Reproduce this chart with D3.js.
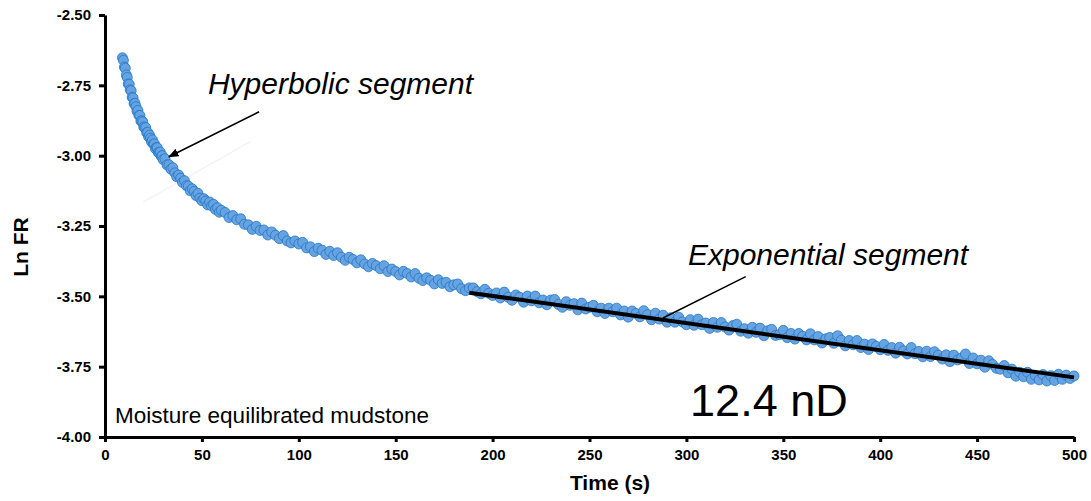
<!DOCTYPE html>
<html>
<head>
<meta charset="utf-8">
<script src="https://cdn.jsdelivr.net/npm/d3@7"></script>
<style>
  body { margin: 0; background: #fff; }
  text { font-family: "Liberation Sans", Arial, sans-serif; }
</style>
</head>
<body>
<div id="chart"></div>
<script>
// early (hyperbolic) part, sampled every 0.5 s
const timesA = [9,9.5,10,10.5,11,11.5,12,12.5,13,13.5,14,14.5,15,15.5,16,16.5,17,17.5,18,18.5,
  19,19.5,20,20.5,21,21.5,22,22.5,23,23.5,24,24.5,25,25.5,26,26.5,27,27.5,28,28.5,29,29.5,30];
const lnFrA = [-2.652,-2.661,-2.685,-2.689,-2.713,-2.722,-2.745,-2.746,-2.766,-2.769,-2.792,-2.795,
  -2.815,-2.814,-2.826,-2.842,-2.839,-2.857,-2.857,-2.877,-2.876,-2.880,-2.898,-2.901,-2.900,-2.918,
  -2.917,-2.933,-2.927,-2.938,-2.951,-2.944,-2.959,-2.958,-2.975,-2.971,-2.972,-2.989,-2.991,-2.987,
  -3.002,-3.000,-3.014];

// every 1 s
const timesB = [31,32,33,34,35,36,37,38,39,40,41,42,43,44,45,46,47,48,49,50,
  51,52,53,54,55,56,57,58,59,60];
const lnFrB = [-3.011,-3.033,-3.032,-3.048,-3.043,-3.061,-3.075,-3.069,-3.080,-3.095,
  -3.089,-3.107,-3.108,-3.125,-3.118,-3.127,-3.142,-3.134,-3.151,-3.160,
  -3.153,-3.161,-3.175,-3.165,-3.178,-3.173,-3.191,-3.185,-3.201,-3.194];

// every 2 s
const timesC = [62,64,66,68,70,72,74,76,78,80,82,84,86,88,90,92,94,96,98,100,
  102,104,106,108,110,112,114,116,118,120,122,124,126,128,130,132,134,136,138,140,
  142,144,146,148,150,152,154,156,158,160,162,164,166,168,170,172,174,176,178,180,
  182,184,186,188,190,192,194,196,198,200,202,204,206,208,210,212,214,216,218,220,
  222,224,226,228,230,232,234,236,238,240,242,244,246,248,250,252,254,256,258,260,
  262,264,266,268,270,272,274,276,278,280,282,284,286,288,290,292,294,296,298,300,
  302,304,306,308,310,312,314,316,318,320,322,324,326,328,330,332,334,336,338,340,
  342,344,346,348,350,352,354,356,358,360,362,364,366,368,370,372,374,376,378,380,
  382,384,386,388,390,392,394,396,398,400,402,404,406,408,410,412,414,416,418,420,
  422,424,426,428,430,432,434,436,438,440,442,444,446,448,450,452,454,456,458,460,
  462,464,466,468,470,472,474,476,478,480,482,484,486,488,490,492,494,496,498,500];
const lnFrC = [-3.202,-3.220,-3.213,-3.228,-3.224,-3.244,-3.246,-3.262,-3.251,-3.266,
  -3.264,-3.282,-3.271,-3.283,-3.295,-3.284,-3.303,-3.310,-3.303,-3.314,
  -3.308,-3.328,-3.324,-3.341,-3.329,-3.336,-3.351,-3.340,-3.355,-3.345,
  -3.361,-3.372,-3.361,-3.369,-3.381,-3.370,-3.385,-3.395,-3.383,-3.391,
  -3.402,-3.391,-3.412,-3.403,-3.412,-3.424,-3.411,-3.419,-3.431,-3.419,
  -3.436,-3.444,-3.434,-3.443,-3.456,-3.441,-3.454,-3.450,-3.466,-3.459,
  -3.456,-3.473,-3.480,-3.470,-3.470,-3.483,-3.491,-3.475,-3.489,-3.497,
  -3.488,-3.506,-3.485,-3.503,-3.514,-3.495,-3.503,-3.521,-3.499,-3.516,
  -3.499,-3.523,-3.513,-3.530,-3.513,-3.511,-3.529,-3.539,-3.519,-3.532,
  -3.526,-3.548,-3.524,-3.545,-3.539,-3.532,-3.555,-3.542,-3.561,-3.542,
  -3.555,-3.542,-3.566,-3.552,-3.574,-3.552,-3.561,-3.573,-3.551,-3.565,
  -3.583,-3.560,-3.581,-3.567,-3.592,-3.576,-3.592,-3.574,-3.591,-3.601,
  -3.583,-3.603,-3.581,-3.601,-3.595,-3.614,-3.593,-3.610,-3.593,-3.609,
  -3.620,-3.604,-3.599,-3.624,-3.615,-3.631,-3.610,-3.628,-3.613,-3.640,
  -3.622,-3.617,-3.639,-3.636,-3.621,-3.647,-3.632,-3.652,-3.632,-3.642,
  -3.655,-3.633,-3.655,-3.643,-3.666,-3.651,-3.646,-3.667,-3.640,-3.656,
  -3.676,-3.657,-3.672,-3.657,-3.682,-3.670,-3.689,-3.669,-3.678,-3.690,
  -3.671,-3.692,-3.682,-3.702,-3.681,-3.694,-3.705,-3.682,-3.704,-3.696,
  -3.715,-3.695,-3.714,-3.697,-3.709,-3.723,-3.708,-3.732,-3.709,-3.726,
  -3.719,-3.705,-3.739,-3.719,-3.740,-3.727,-3.752,-3.729,-3.742,-3.756,
  -3.759,-3.746,-3.772,-3.759,-3.784,-3.770,-3.786,-3.770,-3.795,-3.781,
  -3.797,-3.778,-3.801,-3.782,-3.799,-3.777,-3.795,-3.780,-3.792,-3.783];

// straight fit over the exponential segment
const fitTimes = [188, 500];
const fitValues = [-3.487, -3.788];

const xTicks = [0, 50, 100, 150, 200, 250, 300, 350, 400, 450, 500];
const yTicks = [-4.0, -3.75, -3.5, -3.25, -3.0, -2.75, -2.5];

function init() {
    const w = 1091;
    const h = 501;

    const svg = d3.select("#chart")
        .append("svg")
        .attr("width", w)
        .attr("height", h);

    const x = d3.scaleLinear().domain([0, 500]).range([105, 1074]);
    const y = d3.scaleLinear().domain([-4, -2.5]).range([437, 15]);

    const points = [];
    [[timesA, lnFrA], [timesB, lnFrB], [timesC, lnFrC]].forEach(function(seg) {
        seg[0].forEach(function(t, i) {
            points.push({ t: t, v: seg[1][i] });
        });
    });

    // faint leftover arrow in the original
    svg.append("line")
        .attr("x1", x(19.6)).attr("y1", y(-3.165))
        .attr("x2", x(74.8)).attr("y2", y(-2.951))
        .attr("stroke", "#f3f3f3")
        .attr("stroke-width", 1.5);

    // data points
    svg.append("g")
        .selectAll("circle")
        .data(points)
        .enter()
        .append("circle")
        .attr("cx", function(d) { return x(d.t); })
        .attr("cy", function(d) { return y(d.v); })
        .attr("r", 5)
        .attr("fill", "#66a3e0")
        .attr("stroke", "#1f74c6")
        .attr("stroke-width", 1)
        .attr("stroke-opacity", 0.75);

    // fit line
    svg.append("line")
        .attr("x1", x(fitTimes[0])).attr("y1", y(fitValues[0]))
        .attr("x2", x(fitTimes[1])).attr("y2", y(fitValues[1]))
        .attr("stroke", "#000")
        .attr("stroke-width", 4);

    // axes
    const yAxis = d3.axisLeft(y)
        .tickValues(yTicks)
        .tickFormat(function(d) { return d.toFixed(2); })
        .tickSize(6)
        .tickSizeOuter(0)
        .tickPadding(8);

    const xAxis = d3.axisBottom(x)
        .tickValues(xTicks)
        .tickFormat(function(d) { return d; })
        .tickSize(5)
        .tickSizeOuter(0)
        .tickPadding(7);

    const gy = svg.append("g")
        .attr("transform", "translate(105,0)")
        .call(yAxis);

    const gx = svg.append("g")
        .attr("transform", "translate(0,437)")
        .call(xAxis);

    [gx, gy].forEach(function(g) {
        g.select(".domain").attr("stroke", "#000").attr("stroke-width", 3);
        g.selectAll(".tick line").attr("stroke", "#000").attr("stroke-width", 3);
        g.selectAll(".tick text")
            .attr("fill", "#000")
            .attr("font-family", "Liberation Sans, Arial, sans-serif")
            .attr("font-size", "15px")
            .attr("font-weight", "bold");
    });

    // axis titles
    svg.append("text")
        .attr("x", 610)
        .attr("y", 490)
        .attr("text-anchor", "middle")
        .attr("font-size", "21px")
        .attr("font-weight", "bold")
        .text("Time (s)");

    svg.append("text")
        .attr("transform", "translate(28,247) rotate(-90)")
        .attr("text-anchor", "middle")
        .attr("font-size", "21px")
        .attr("font-weight", "bold")
        .text("Ln FR");

    // annotations
    svg.append("defs").append("marker")
        .attr("id", "arrow")
        .attr("viewBox", "0 0 10 10")
        .attr("refX", 9)
        .attr("refY", 5)
        .attr("markerWidth", 7)
        .attr("markerHeight", 7)
        .attr("orient", "auto")
        .append("path")
        .attr("d", "M0,1 L10,5 L0,9 Z")
        .attr("fill", "#000");

    svg.append("line")
        .attr("x1", x(79.5)).attr("y1", y(-2.844))
        .attr("x2", x(33.0)).attr("y2", y(-3.004))
        .attr("stroke", "#000")
        .attr("stroke-width", 1.5)
        .attr("marker-end", "url(#arrow)");

    svg.append("line")
        .attr("x1", x(330.6)).attr("y1", y(-3.43))
        .attr("x2", x(287.9)).attr("y2", y(-3.577))
        .attr("stroke", "#000")
        .attr("stroke-width", 1.5);

    svg.append("text")
        .attr("x", x(53.1)).attr("y", y(-2.78))
        .attr("font-size", "30px")
        .attr("font-style", "italic")
        .text("Hyperbolic segment");

    svg.append("text")
        .attr("x", x(300.8)).attr("y", y(-3.389))
        .attr("font-size", "30px")
        .attr("font-style", "italic")
        .text("Exponential segment");

    svg.append("text")
        .attr("x", x(301.9)).attr("y", y(-3.926))
        .attr("font-size", "45px")
        .text("12.4 nD");

    svg.append("text")
        .attr("x", x(5.2)).attr("y", y(-3.95))
        .attr("font-size", "22.5px")
        .text("Moisture equilibrated mudstone");
}

window.onload = init;
</script>
</body>
</html>
